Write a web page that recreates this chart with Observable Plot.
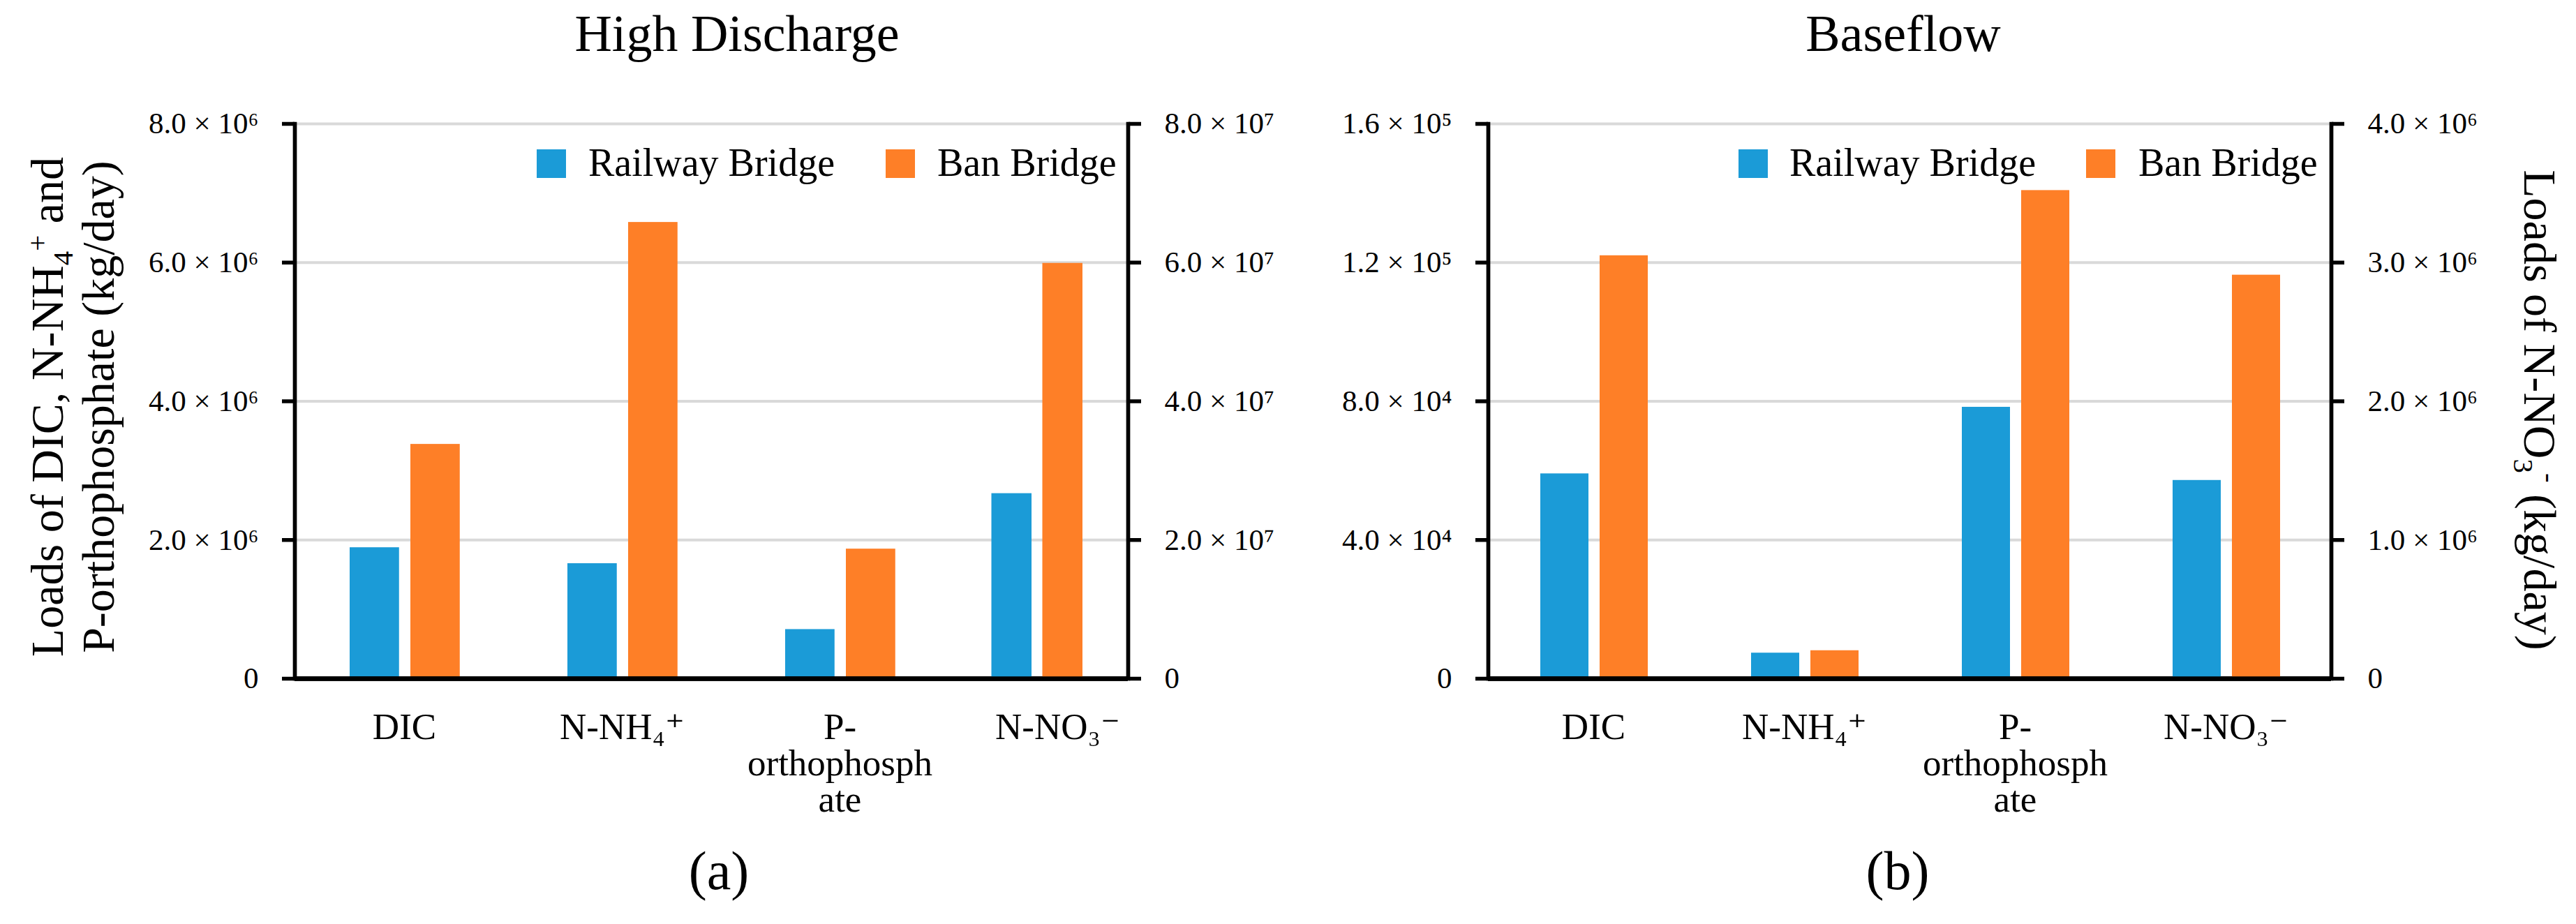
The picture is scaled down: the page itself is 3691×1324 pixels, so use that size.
<!DOCTYPE html>
<html>
<head>
<meta charset="utf-8">
<script src="https://cdn.jsdelivr.net/npm/d3@7"></script>
<script src="https://cdn.jsdelivr.net/npm/@observablehq/plot@0.6"></script>
<style>
  html, body { margin: 0; padding: 0; background: #fff; }
  body { width: 3691px; height: 1324px; position: relative; overflow: hidden;
         font-family: "Liberation Serif", "DejaVu Serif", serif; color: #000; }
  .abs { position: absolute; }
  .title { position: absolute; font-size: 74px; line-height: 74px; text-align: center; white-space: nowrap; }
  .plabel { position: absolute; font-size: 78px; line-height: 78px; text-align: center; white-space: nowrap; }
  .ylab { position: absolute; font-size: 66px; line-height: 73px; text-align: center; white-space: nowrap; }
  .ylab sub, .ylab sup { font-size: 0.62em; line-height: 0; }
  .leg-sw { position: absolute; width: 42px; height: 41px; }
  .leg-tx { position: absolute; font-size: 56px; line-height: 56px; white-space: nowrap; }
</style>
</head>
<body>
<script>
// ---------- data ----------
const categories = ["DIC", "N-NH₄⁺", "P-orthophosphate", "N-NO₃⁻"];
const categoryLabels = ["DIC", "N-NH₄⁺", "P-\northophosph\nate", "N-NO₃⁻"];
const secondaryCategories = ["N-NO₃⁻"];           // plotted against the right axis
const seriesNames = ["Railway Bridge", "Ban Bridge"];
const seriesColors = ["#1b9bd7", "#fe7f27"];

// (a) High Discharge, kg/day
const highRailway = [1.89e6, 1.66e6, 0.71e6, 2.67e7];
const highBan     = [3.38e6, 6.58e6, 1.87e6, 5.99e7];
// (b) Baseflow, kg/day
const baseRailway = [5.91e4, 7.4e3, 7.83e4, 1.43e6];
const baseBan     = [1.22e5, 8.1e3, 1.408e5, 2.91e6];

// tick values and labels
const highLeftTicks  = [0, 2e6, 4e6, 6e6, 8e6];
const highLeftLabels = ["0", "2.0 × 10⁶", "4.0 × 10⁶", "6.0 × 10⁶", "8.0 × 10⁶"];
const highRightTicks  = [0, 2e7, 4e7, 6e7, 8e7];
const highRightLabels = ["0", "2.0 × 10⁷", "4.0 × 10⁷", "6.0 × 10⁷", "8.0 × 10⁷"];
const baseLeftTicks  = [0, 4e4, 8e4, 1.2e5, 1.6e5];
const baseLeftLabels = ["0", "4.0 × 10⁴", "8.0 × 10⁴", "1.2 × 10⁵", "1.6 × 10⁵"];
const baseRightTicks  = [0, 1e6, 2e6, 3e6, 4e6];
const baseRightLabels = ["0", "1.0 × 10⁶", "2.0 × 10⁶", "3.0 × 10⁶", "4.0 × 10⁶"];

const panelTitles = ["High Discharge", "Baseflow"];
const panelLetters = ["(a)", "(b)"];

// ---------- helpers ----------
const FONT = "'Liberation Serif', 'DejaVu Serif', serif";
const labelOf = new Map(categories.map((c, i) => [c, categoryLabels[i]]));

function rows(railway, ban) {
  return categories.flatMap((c, i) => [
    {category: c, series: seriesNames[0], value: railway[i]},
    {category: c, series: seriesNames[1], value: ban[i]}
  ]);
}

function place(el, left, top) {
  const d = document.createElement("div");
  d.className = "abs";
  d.style.left = left + "px";
  d.style.top = top + "px";
  d.appendChild(el);
  document.body.appendChild(d);
}

function html(cls, text, style) {
  const d = document.createElement("div");
  d.className = cls;
  d.innerHTML = text;
  Object.assign(d.style, style);
  document.body.appendChild(d);
  return d;
}

function panel(cfg) {
  const data = rows(cfg.railway, cfg.ban);
  const prim = data.filter(d => !secondaryCategories.includes(d.category));
  const sec = data.filter(d => secondaryCategories.includes(d.category));
  const leftMap = new Map(cfg.leftTicks.map((t, i) => [t, cfg.leftLabels[i]]));
  const rightMap = new Map(cfg.rightTicks.map((t, i) => [t, cfg.rightLabels[i]]));
  const common = {
    width: cfg.width, height: 1324,
    marginTop: 177, marginBottom: 352,
    marginLeft: cfg.marginLeft, marginRight: cfg.marginRight,
    style: {fontFamily: FONT, background: "transparent", color: "#000", overflow: "visible"}
  };

  const primary = Plot.plot({
    ...common,
    x: {domain: categories, padding: 0, insetRight: cfg.primaryInsetRight},
    y: {domain: [cfg.leftTicks[0], cfg.leftTicks[cfg.leftTicks.length - 1]]},
    marks: [
      Plot.gridY({ticks: cfg.leftTicks, stroke: "#d9d9d9", strokeOpacity: 1, strokeWidth: 4}),
      Plot.barY(prim.filter(d => d.series === seriesNames[0]), {
        x: "category", y: "value", fill: seriesColors[0],
        insetLeft: cfg.pBars[0][0], insetRight: cfg.pBars[0][1]}),
      Plot.barY(prim.filter(d => d.series === seriesNames[1]), {
        x: "category", y: "value", fill: seriesColors[1],
        insetLeft: cfg.pBars[1][0], insetRight: cfg.pBars[1][1]}),
      Plot.axisX({anchor: "bottom", tickSize: 0, tickPadding: 50, fontSize: 53,
        lineHeight: 0.98, label: null, tickFormat: d => labelOf.get(d)}),
      Plot.axisY({anchor: "left", ticks: cfg.leftTicks, tickFormat: d => leftMap.get(d),
        tickSize: 18, tickPadding: 34, strokeWidth: 5.5, fontSize: 43, label: null}),
      Plot.frame({anchor: "left", stroke: "#000", strokeWidth: 5.7}),
      Plot.ruleY([0], {stroke: "#000", strokeWidth: 6.5})
    ]
  });

  const secondary = Plot.plot({
    ...common,
    x: {domain: categories, padding: 0, axis: null},
    y: {domain: [cfg.rightTicks[0], cfg.rightTicks[cfg.rightTicks.length - 1]]},
    marks: [
      Plot.barY(sec.filter(d => d.series === seriesNames[0]), {
        x: "category", y: "value", fill: seriesColors[0],
        insetLeft: cfg.sBars[0][0], insetRight: cfg.sBars[0][1]}),
      Plot.barY(sec.filter(d => d.series === seriesNames[1]), {
        x: "category", y: "value", fill: seriesColors[1],
        insetLeft: cfg.sBars[1][0], insetRight: cfg.sBars[1][1]}),
      Plot.axisY({anchor: "right", ticks: cfg.rightTicks, tickFormat: d => rightMap.get(d),
        tickSize: 18, tickPadding: 34, strokeWidth: 5.5, fontSize: 43, label: null}),
      Plot.frame({anchor: "right", stroke: "#000", strokeWidth: 5.7}),
      Plot.ruleY([0], {stroke: "#000", strokeWidth: 6.5})
    ]
  });

  place(primary, cfg.left, 0);
  place(secondary, cfg.left, 0);
}

// ---------- panels ----------
panel({
  left: 0, width: 1846, marginLeft: 422, marginRight: 230,
  primaryInsetRight: -55,
  railway: highRailway, ban: highBan,
  leftTicks: highLeftTicks, leftLabels: highLeftLabels,
  rightTicks: highRightTicks, rightLabels: highRightLabels,
  pBars: [[78, 163.25], [165, 76.25]],
  sBars: [[103.5, 137], [176.5, 64]]
});
panel({
  left: 1846, width: 1845, marginLeft: 286, marginRight: 351,
  primaryInsetRight: 0,
  railway: baseRailway, ban: baseBan,
  leftTicks: baseLeftTicks, leftLabels: baseLeftLabels,
  rightTicks: baseRightTicks, rightLabels: baseRightLabels,
  pBars: [[75, 158], [160, 73]],
  sBars: [[75, 158], [160, 73]]
});

// ---------- titles, panel letters ----------
html("title", panelTitles[0], {left: (1056 - 500) + "px", top: "11px", width: "1000px"});
html("title", panelTitles[1], {left: (2727 - 500) + "px", top: "11px", width: "1000px"});
html("plabel", panelLetters[0], {left: (1030 - 200) + "px", top: "1209px", width: "400px"});
html("plabel", panelLetters[1], {left: (2719 - 200) + "px", top: "1209px", width: "400px"});

// ---------- axis titles ----------
html("ylab", "Loads of DIC, N-NH<sub>4</sub><sup>+</sup> and<br>P-orthophosphate (kg/day)",
  {left: (104 - 450) + "px", top: (583 - 73) + "px", width: "900px", height: "146px",
   transform: "rotate(-90deg)", transformOrigin: "50% 50%"});
html("ylab", "Loads of N-NO<sub>3</sub><sup>-</sup> (kg/day)",
  {left: (3639 - 450) + "px", top: (587 - 36.5) + "px", width: "900px", height: "73px",
   transform: "rotate(90deg)", transformOrigin: "50% 50%"});

// ---------- legends (inside plot areas) ----------
const legendPos = [
  {sw: [769, 1269], tx: [843, 1343]},
  {sw: [2491, 2989], tx: [2564, 3064]}
];
legendPos.forEach(p => {
  seriesNames.forEach((name, i) => {
    html("leg-sw", "", {left: p.sw[i] + "px", top: "214px", background: seriesColors[i]});
    const t = html("leg-tx", "", {left: p.tx[i] + "px", top: "205px"});
    t.textContent = name;
  });
});
</script>
</body>
</html>
